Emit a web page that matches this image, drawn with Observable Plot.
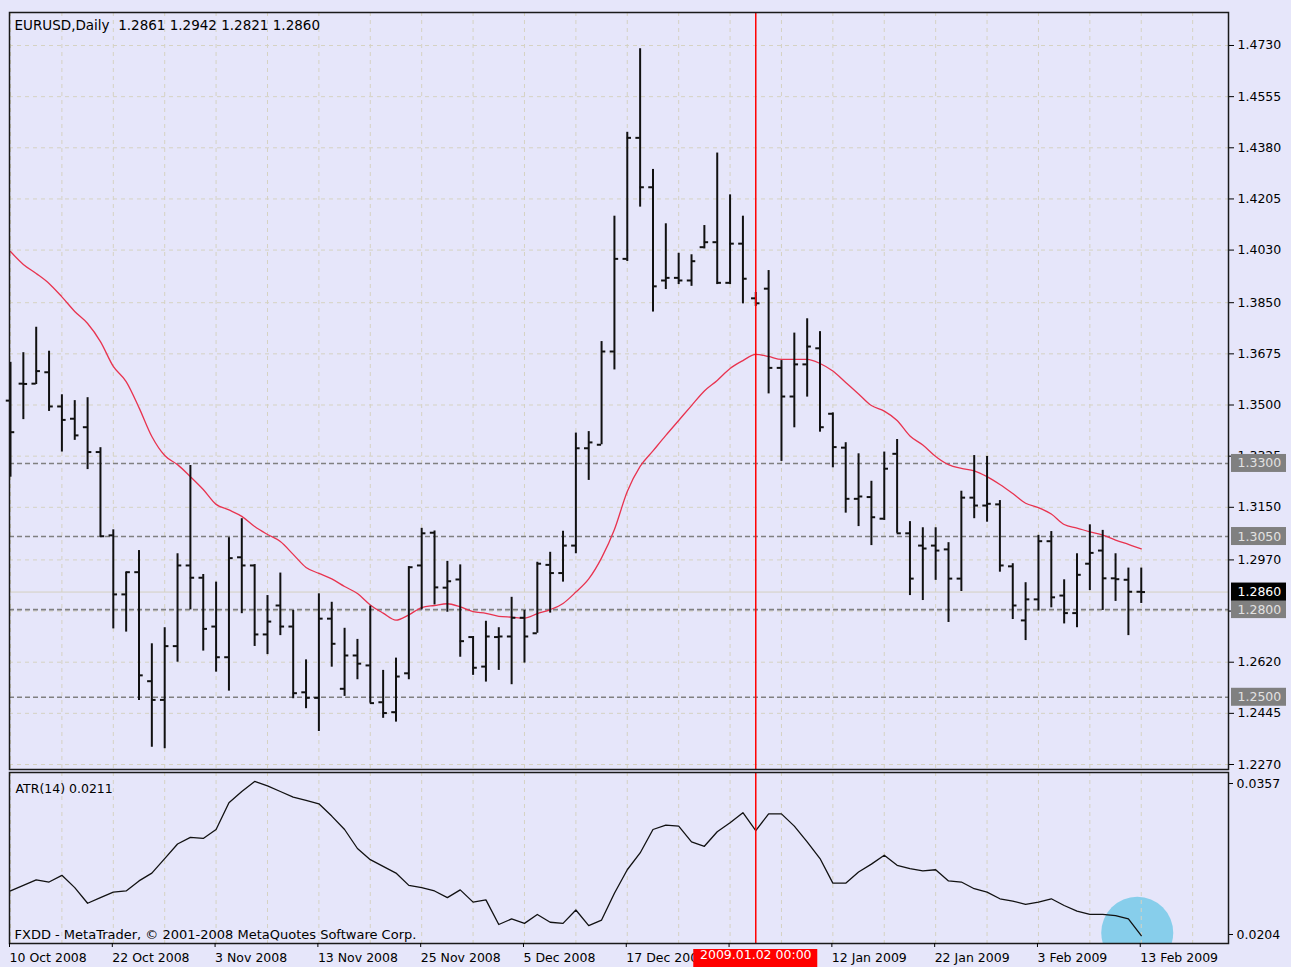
<!DOCTYPE html>
<html>
<head>
<meta charset="utf-8">
<script src="https://cdn.jsdelivr.net/npm/d3@7"></script>
<script src="https://cdn.jsdelivr.net/npm/@observablehq/plot@0.6"></script>
<style>
  body { margin: 0; background: #f4f4fa; }
  #wrap { position: relative; width: 1291px; height: 967px; background: #E6E6FA; overflow: hidden; font-family: "DejaVu Sans", sans-serif; }
  #main { position: absolute; left: 0; top: 0; }
  #atr { position: absolute; left: 0; top: 771px; }
</style>
</head>
<body>
<div id="wrap"><div id="main"></div><div id="atr"></div></div>
<script>
// ---------------- data ----------------
const symbol = "EURUSD,Daily";
const dates = [
  "2008-10-10","2008-10-13","2008-10-14","2008-10-15","2008-10-16","2008-10-17","2008-10-20","2008-10-21","2008-10-22","2008-10-23",
  "2008-10-24","2008-10-27","2008-10-28","2008-10-29","2008-10-30","2008-10-31","2008-11-03","2008-11-04","2008-11-05","2008-11-06",
  "2008-11-07","2008-11-10","2008-11-11","2008-11-12","2008-11-13","2008-11-14","2008-11-17","2008-11-18","2008-11-19","2008-11-20",
  "2008-11-21","2008-11-24","2008-11-25","2008-11-26","2008-11-27","2008-11-28","2008-12-01","2008-12-02","2008-12-03","2008-12-04",
  "2008-12-05","2008-12-08","2008-12-09","2008-12-10","2008-12-11","2008-12-12","2008-12-15","2008-12-16","2008-12-17","2008-12-18",
  "2008-12-19","2008-12-22","2008-12-23","2008-12-24","2008-12-26","2008-12-29","2008-12-30","2008-12-31","2009-01-02","2009-01-05",
  "2009-01-06","2009-01-07","2009-01-08","2009-01-09","2009-01-12","2009-01-13","2009-01-14","2009-01-15","2009-01-16","2009-01-19",
  "2009-01-20","2009-01-21","2009-01-22","2009-01-23","2009-01-26","2009-01-27","2009-01-28","2009-01-29","2009-01-30","2009-02-02",
  "2009-02-03","2009-02-04","2009-02-05","2009-02-06","2009-02-09","2009-02-10","2009-02-11","2009-02-12","2009-02-13"
];
const open = [
  1.3515,1.3573,1.3573,1.3612,1.3495,1.3453,1.3424,1.3339,1.3054,1.2852,
  1.2928,1.2555,1.2491,1.2675,1.2951,1.2909,1.2742,1.2637,1.2979,1.2951,
  1.2715,1.2814,1.2742,1.2517,1.2498,1.2769,1.2529,1.2643,1.2609,1.2483,
  1.2449,1.2582,1.2951,1.3063,1.2875,1.2903,1.2706,1.2605,1.2706,1.2708,
  1.2772,1.2719,1.2953,1.2925,1.3019,1.3352,1.3364,1.3683,1.4000,1.4414,
  1.4245,1.3926,1.3935,1.3926,1.4040,1.4057,1.3918,1.4052,1.3865,1.3898,
  1.3627,1.3529,1.3639,1.3694,1.3470,1.3354,1.3179,1.3185,1.3111,1.3333,
  1.3061,1.3019,1.3019,1.3006,1.2906,1.3183,1.3156,1.3160,1.2948,1.2763,
  1.2835,1.3034,1.2848,1.2788,1.2957,1.3002,1.2907,1.2902,1.2861
];
const high = [
  1.3646,1.3679,1.3766,1.3684,1.3535,1.3515,1.3525,1.3354,1.3073,1.2928,
  1.3002,1.2683,1.2738,1.2991,1.3293,1.2920,1.2894,1.3046,1.3111,1.2954,
  1.2848,1.2925,1.2797,1.2628,1.2854,1.2825,1.2736,1.2698,1.2812,1.2592,
  1.2634,1.2947,1.3078,1.3069,1.2965,1.2953,1.2708,1.2760,1.2738,1.2842,
  1.2797,1.2962,1.2996,1.3068,1.3404,1.3409,1.3717,1.4146,1.4433,1.4719,
  1.4306,1.4120,1.4019,1.4014,1.4114,1.4362,1.4219,1.4146,1.3885,1.3960,
  1.3652,1.3746,1.3795,1.3751,1.3473,1.3371,1.3333,1.3239,1.3339,1.3382,
  1.3101,1.3080,1.3080,1.3029,1.3205,1.3327,1.3324,1.3173,1.2957,1.2892,
  1.3054,1.3067,1.2902,1.2991,1.3090,1.3071,1.2991,1.2942,1.2942
];
const low = [
  1.3253,1.3450,1.3570,1.3478,1.3339,1.3379,1.3279,1.3048,1.2734,1.2723,
  1.2489,1.2329,1.2324,1.2620,1.2799,1.2658,1.2586,1.2521,1.2786,1.2674,
  1.2646,1.2711,1.2495,1.2461,1.2383,1.2603,1.2503,1.2560,1.2480,1.2428,
  1.2415,1.2560,1.2799,1.2816,1.2791,1.2637,1.2575,1.2552,1.2592,1.2543,
  1.2617,1.2719,1.2788,1.2894,1.2991,1.3242,1.3364,1.3620,1.3991,1.4177,
  1.3818,1.3895,1.3912,1.3906,1.4034,1.3912,1.3912,1.3846,1.3837,1.3538,
  1.3307,1.3422,1.3527,1.3407,1.3285,1.3130,1.3084,1.3019,1.3105,1.3061,
  1.2848,1.2831,1.2900,1.2756,1.2862,1.3111,1.3099,1.2928,1.2766,1.2694,
  1.2795,1.2806,1.2751,1.2738,1.2865,1.2797,1.2828,1.2711,1.2821
];
const close = [
  1.3407,1.3572,1.3616,1.3495,1.3449,1.3396,1.3339,1.3051,1.2852,1.2928,
  1.2575,1.2491,1.2675,1.2951,1.2909,1.2734,1.2637,1.2976,1.2951,1.2715,
  1.2759,1.2742,1.2514,1.2498,1.2769,1.2683,1.2643,1.2615,1.2480,1.2446,
  1.2571,1.2945,1.3061,1.2876,1.2897,1.2692,1.2601,1.2708,1.2708,1.2772,
  1.2708,1.2957,1.2925,1.3019,1.3352,1.3372,1.3683,1.4000,1.4414,1.4245,
  1.3906,1.3935,1.3926,1.3992,1.4057,1.3918,1.4052,1.3932,1.3848,1.3627,
  1.3529,1.3639,1.3700,1.3424,1.3356,1.3179,1.3187,1.3116,1.3282,1.3061,
  1.2906,1.3009,1.3002,1.2906,1.3183,1.3156,1.3162,1.2951,1.2814,1.2835,
  1.3034,1.2842,1.2788,1.2919,1.2994,1.2907,1.2904,1.2861,1.2860
];
// moving average line (red)
const ma = [
  1.4025,1.3981,1.3950,1.3916,1.3870,1.3820,1.3779,1.3717,1.3632,1.3580,
  1.3491,1.3392,1.3327,1.3296,1.3255,1.3211,1.3160,1.3141,1.3119,1.3084,
  1.3057,1.3033,1.2989,1.2944,1.2924,1.2905,1.2879,1.2855,1.2816,1.2788,
  1.2764,1.2782,1.2807,1.2814,1.2820,1.2809,1.2793,1.2787,1.2777,1.2774,
  1.2771,1.2786,1.2800,1.2821,1.2860,1.2905,1.2977,1.3074,1.3204,1.3290,
  1.3343,1.3396,1.3447,1.3498,1.3548,1.3584,1.3625,1.3652,1.3673,1.3666,
  1.3656,1.3656,1.3656,1.3642,1.3616,1.3577,1.3538,1.3498,1.3479,1.3447,
  1.3394,1.3363,1.3324,1.3296,1.3283,1.3275,1.3255,1.3228,1.3197,1.3164,
  1.3149,1.3127,1.3091,1.3079,1.3066,1.3055,1.3038,1.3023,1.3008
];
// ATR(14)
const atr = [
  0.0251,0.0256,0.0261,0.0259,0.0265,0.0254,0.0240,0.0245,0.0250,0.0251,
  0.0260,0.0267,0.0280,0.0293,0.0299,0.0298,0.0306,0.0330,0.0340,0.0349,
  0.0345,0.0340,0.0335,0.0332,0.0329,0.0318,0.0306,0.0289,0.0279,0.0273,
  0.0267,0.0256,0.0254,0.0251,0.0245,0.0252,0.0241,0.0243,0.0221,0.0226,
  0.0222,0.0230,0.0223,0.0222,0.0234,0.0220,0.0225,0.0249,0.0270,0.0285,
  0.0306,0.0310,0.0309,0.0295,0.0291,0.0304,0.0312,0.0321,0.0305,0.0320,
  0.0320,0.0309,0.0295,0.0280,0.0258,0.0258,0.0268,0.0275,0.0283,0.0274,
  0.0271,0.0269,0.0270,0.0260,0.0259,0.0253,0.0250,0.0244,0.0242,0.0239,
  0.0241,0.0244,0.0238,0.0233,0.0230,0.0230,0.0229,0.0226,0.0211
];
const priceTicks = [1.4730,1.4555,1.4380,1.4205,1.4030,1.3850,1.3675,1.3500,1.3325,1.3150,1.2970,1.2795,1.2620,1.2445,1.2270];
const levels = [1.3300, 1.3050, 1.2800, 1.2500];
const atrTicks = [0.0357, 0.0204];
const markedDate = "2009-01-02";
const atrPeriod = 14;
const copyright = "FXDD - MetaTrader, \u00A9 2001-2008 MetaQuotes Software Corp.";

// ---------------- build ----------------
const parse = d3.utcParse("%Y-%m-%d");
const fmtDay = d3.utcFormat("%-d %b %Y");
const fmtStamp = d3.utcFormat("%Y.%m.%d %H:%M");
const bars = dates.map((d, i) => ({i, date: parse(d), o: open[i], h: high[i], l: low[i], c: close[i], ma: ma[i], atr: atr[i]}));
const last = bars.length - 1;
const markIdx = dates.indexOf(markedDate);
const dateTicks = d3.range(0, bars.length, 8);
const gridX = d3.range(0, 93, 4);
const f4 = d => d.toFixed(4);
// the date label lying under the red time marker is hidden, as in the terminal
const dayLabel = i => Math.abs(i - markIdx) < 4 ? "" : fmtDay(bars[i].date);

const W = 1291;
const xDomain = [-0.078, 94.79];
const M = {left: 9, right: 63};
const GRID = "#D5D2C2";
const FONT = {fontFamily: "DejaVu Sans, sans-serif", fontSize: "12.5px", background: "none", color: "#000", overflow: "visible"};

function boxed(fill, w, h, mode) {
  return (index, scales, values, dims, context, next) => {
    const g = next(index, scales, values, dims, context);
    const ns = "http://www.w3.org/2000/svg";
    const wrap = document.createElementNS(ns, "g");
    for (const i of index) {
      const r = document.createElementNS(ns, "rect");
      let x, y;
      if (mode === "right") { x = dims.width - dims.marginRight + 3; y = values.y[i] - h / 2; }
      else { x = values.x[i] - w / 2; y = dims.height - dims.marginBottom + 6; }
      r.setAttribute("x", x); r.setAttribute("y", y);
      r.setAttribute("width", w); r.setAttribute("height", h);
      r.setAttribute("fill", fill);
      wrap.appendChild(r);
    }
    wrap.appendChild(g);
    return wrap;
  };
}

const header = `${symbol}\u00A0\u00A0${f4(open[last])} ${f4(high[last])} ${f4(low[last])} ${f4(close[last])}`;

const mainPlot = Plot.plot({
  width: W, height: 771,
  marginLeft: M.left, marginRight: M.right, marginTop: 12, marginBottom: 2,
  style: FONT,
  x: {domain: xDomain, axis: null},
  y: {domain: [1.22529, 1.48429]},
  marks: [
    Plot.ruleY(priceTicks, {stroke: GRID, strokeDasharray: "4,4"}),
    Plot.ruleX(gridX, {stroke: GRID, strokeDasharray: "4,4"}),
    Plot.ruleY([close[last]], {stroke: "#D4D0C0", strokeWidth: 1}),
    Plot.ruleY(levels, {stroke: "#808080", strokeWidth: 1.6, strokeDasharray: "5,3"}),
    Plot.line(bars, {x: "i", y: "ma", stroke: "#E8334F", strokeWidth: 1.3, curve: "monotone-x"}),
    Plot.ruleX(bars, {x: "i", y1: "l", y2: "h", stroke: "#111", strokeWidth: 2}),
    Plot.ruleY(bars, {y: "o", x1: d => d.i - 0.33, x2: "i", stroke: "#111", strokeWidth: 2}),
    Plot.ruleY(bars, {y: "c", x1: "i", x2: d => d.i + 0.33, stroke: "#111", strokeWidth: 2}),
    Plot.ruleX([markIdx], {stroke: "#FF0000", strokeWidth: 1.5}),
    Plot.frame({stroke: "#1a1a1a", strokeWidth: 1.5}),
    Plot.axisY(priceTicks, {anchor: "right", tickSize: 5, tickPadding: 4, tickFormat: f4, label: null, fontSize: 12.5}),
    Plot.text(levels, {y: d => d, text: f4, frameAnchor: "right", textAnchor: "start", dx: 9, fill: "#E2E2E2", fontSize: 12.5,
      render: boxed("#808080", 55, 18, "right")}),
    Plot.text([close[last]], {y: d => d, text: f4, frameAnchor: "right", textAnchor: "start", dx: 9, fill: "#FFFFFF", fontSize: 12.5,
      render: boxed("#000000", 55, 18, "right")}),
    Plot.text([header], {text: d => d, frameAnchor: "top-left", textAnchor: "start", lineAnchor: "top", dx: 5, dy: 8, fontSize: 13.5, fill: "#000"})
  ]
});
document.getElementById("main").appendChild(mainPlot);

const atrPlot = Plot.plot({
  width: W, height: 196,
  marginLeft: M.left, marginRight: M.right, marginTop: 1, marginBottom: 24,
  style: FONT,
  x: {domain: xDomain},
  y: {domain: [0.0204, 0.0357]},
  marks: [
    Plot.dot([last], {x: i => i, y: i => atr[i], r: 36, fill: "#87CEEB", dx: -4, dy: -3, clip: true}),
    Plot.ruleX(gridX, {stroke: GRID, strokeDasharray: "4,4"}),
    Plot.line(bars, {x: "i", y: "atr", stroke: "#111", strokeWidth: 1.3}),
    Plot.ruleX([markIdx], {stroke: "#FF0000", strokeWidth: 1.5}),
    Plot.frame({stroke: "#1a1a1a", strokeWidth: 1.5}),
    Plot.axisY([atrTicks[0]], {anchor: "right", tickSize: 4, tickPadding: 4, dy: 11, tickFormat: f4, label: null, fontSize: 12.5}),
    Plot.axisY([atrTicks[1]], {anchor: "right", tickSize: 4, tickPadding: 4, dy: -9, tickFormat: f4, label: null, fontSize: 12.5}),
    Plot.axisX(dateTicks, {anchor: "bottom", tickSize: 4, tickPadding: 6, tickFormat: dayLabel, textAnchor: "start", dx: -1, label: null, fontSize: 12.5}),
    Plot.text([markIdx], {x: d => d, text: d => fmtStamp(bars[d].date), frameAnchor: "bottom", dy: 15, fill: "#FFFFFF", fontSize: 12.5,
      render: boxed("#FF0000", 124, 18, "bottom")}),
    Plot.text([`ATR(${atrPeriod}) ${f4(atr[last])}`], {text: d => d, frameAnchor: "top-left", textAnchor: "start", lineAnchor: "top", dx: 6, dy: 12, fontSize: 12.5, fill: "#000"}),
    Plot.text([copyright], {text: d => d, frameAnchor: "bottom-left", textAnchor: "start", lineAnchor: "bottom", dx: 5, dy: -5, fontSize: 13, fill: "#000"})
  ]
});
document.getElementById("atr").appendChild(atrPlot);
</script>
</body>
</html>
